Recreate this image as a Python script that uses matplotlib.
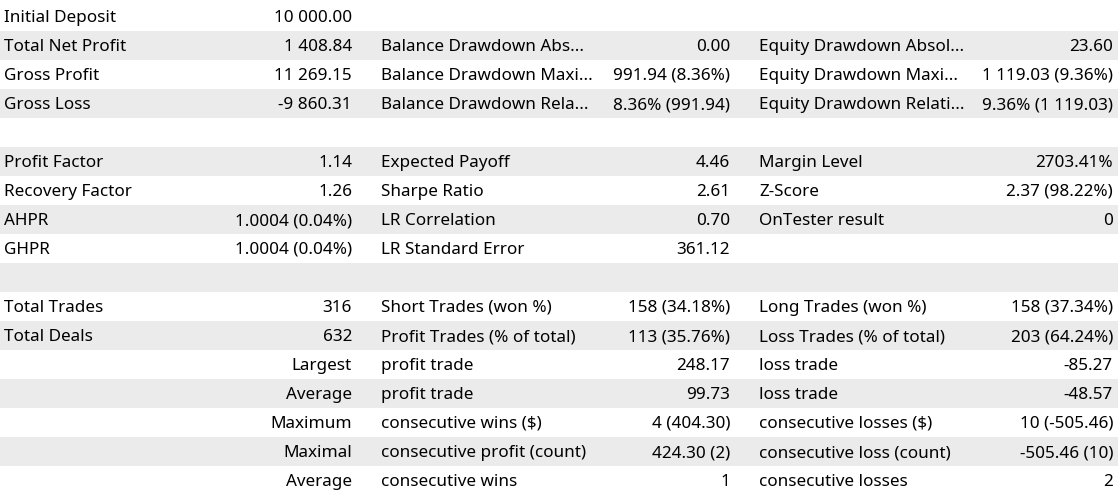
import matplotlib.pyplot as plt
from matplotlib.patches import Rectangle

# report rows (17 lines, '' = empty cell)
col1_labels = ['Initial Deposit', 'Total Net Profit', 'Gross Profit', 'Gross Loss', '',
               'Profit Factor', 'Recovery Factor', 'AHPR', 'GHPR', '',
               'Total Trades', 'Total Deals', '', '', '', '', '']
col1_values = ['10 000.00', '1 408.84', '11 269.15', '-9 860.31', '',
               '1.14', '1.26', '1.0004 (0.04%)', '1.0004 (0.04%)', '',
               '316', '632', 'Largest', 'Average', 'Maximum', 'Maximal', 'Average']
col2_labels = ['', 'Balance Drawdown Abs...', 'Balance Drawdown Maxi...', 'Balance Drawdown Rela...', '',
               'Expected Payoff', 'Sharpe Ratio', 'LR Correlation', 'LR Standard Error', '',
               'Short Trades (won %)', 'Profit Trades (% of total)', 'profit trade', 'profit trade',
               'consecutive wins ($)', 'consecutive profit (count)', 'consecutive wins']
col2_values = ['', '0.00', '991.94 (8.36%)', '8.36% (991.94)', '',
               '4.46', '2.61', '0.70', '361.12', '',
               '158 (34.18%)', '113 (35.76%)', '248.17', '99.73',
               '4 (404.30)', '424.30 (2)', '1']
col3_labels = ['', 'Equity Drawdown Absol...', 'Equity Drawdown Maxi...', 'Equity Drawdown Relati...', '',
               'Margin Level', 'Z-Score', 'OnTester result', '', '',
               'Long Trades (won %)', 'Loss Trades (% of total)', 'loss trade', 'loss trade',
               'consecutive losses ($)', 'consecutive loss (count)', 'consecutive losses']
col3_values = ['', '23.60', '1 119.03 (9.36%)', '9.36% (1 119.03)', '',
               '2703.41%', '2.37 (98.22%)', '0', '', '',
               '158 (37.34%)', '203 (64.24%)', '-85.27', '-48.57',
               '10 (-505.46)', '-505.46 (10)', '2']

W, H = 1120, 493
row_h = 29
top = 1.5

fig = plt.figure(figsize=(W / 100, H / 100), dpi=100)
ax = fig.add_axes([0, 0, 1, 1])
ax.set_xlim(0, W)
ax.set_ylim(H, 0)
ax.axis('off')

font = dict(family='Noto Sans', fontsize=12.3, color='#000000', va='baseline')

for i in range(len(col1_labels)):
    y0 = top + i * row_h
    if i % 2 == 1:
        ax.add_patch(Rectangle((0, y0), 1118, row_h, color='#ebebeb', lw=0))
    yb = y0 + 20.5
    ax.text(4, yb, col1_labels[i], ha='left', **font)
    ax.text(352, yb, col1_values[i], ha='right', **font)
    ax.text(381, yb, col2_labels[i], ha='left', **font)
    ax.text(730, yb, col2_values[i], ha='right', **font)
    ax.text(759, yb, col3_labels[i], ha='left', **font)
    ax.text(1113, yb, col3_values[i], ha='right', **font)

plt.savefig('out.png', dpi=100)
